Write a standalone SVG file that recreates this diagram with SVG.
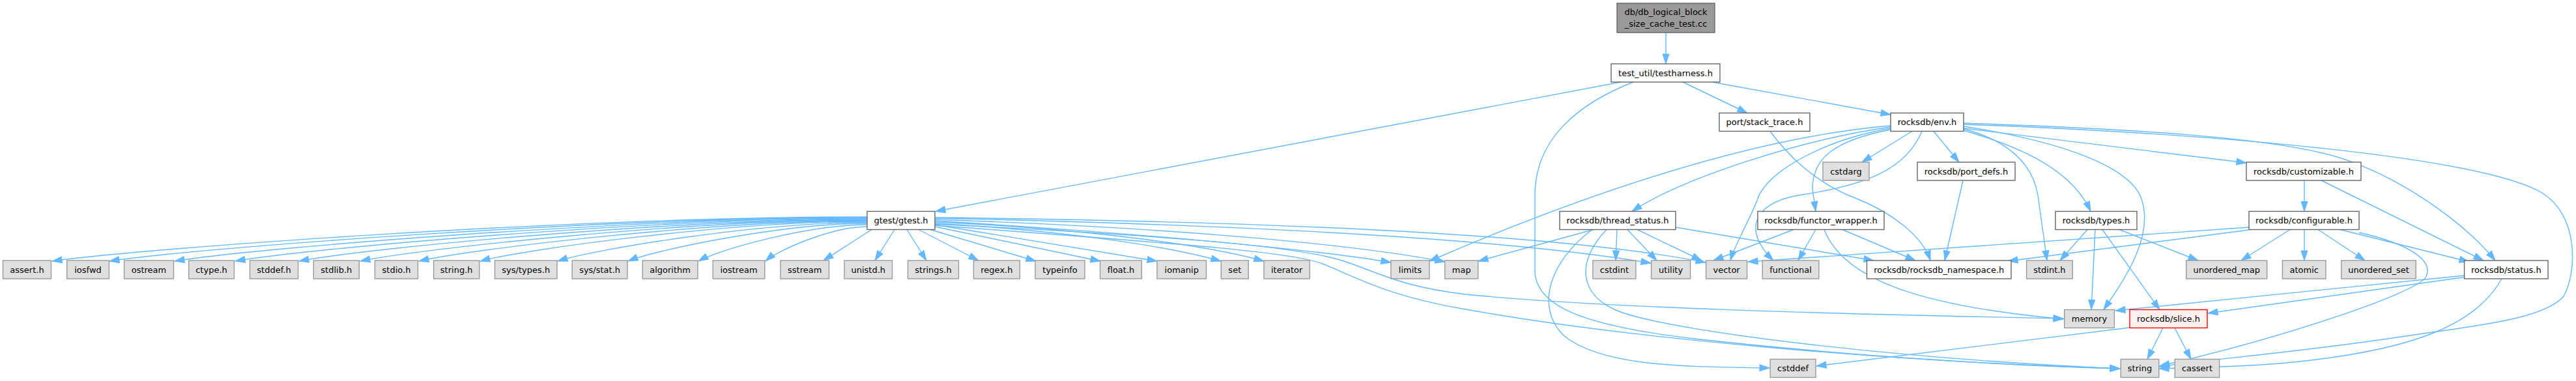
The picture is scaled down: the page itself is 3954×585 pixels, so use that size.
<svg xmlns="http://www.w3.org/2000/svg" width="3954" height="585" viewBox="0 0 3954 585">
<defs>
<marker id="a" markerUnits="userSpaceOnUse" markerWidth="16" markerHeight="12" refX="15" refY="5" orient="auto" overflow="visible"><path d="M0,0L15,5L0,10z" fill="#63b8ff" stroke="#63b8ff" stroke-width="1"/></marker>
<style>
.e{fill:none;stroke:#63b8ff;stroke-width:1.4;marker-end:url(#a)}
.w{fill:#fff;stroke:#666;stroke-width:1.4}
.x{fill:#e0e0e0;stroke:#999;stroke-width:1.4}
.t{fill:#999;stroke:#666;stroke-width:1.4}
.r{fill:#fff0f0;stroke:#f00;stroke-width:1.4}
text{font-family:"DejaVu Sans","Liberation Sans",sans-serif;font-size:13px;text-anchor:middle;fill:#000}
</style>
</defs>
<rect width="3954" height="585" fill="#fff"/>
<g id="edges">
<path class="e" d="M2557,50L2557,98"/>
<path class="e" d="M2488,126L1436,324.5"/>
<path class="e" d="M2507,126C2420,160 2356,215 2356,300L2356,415C2356,470 2430,500 2600,520C2850,548 3100,562 3254,566"/>
<path class="e" d="M2583,126L2682,173.5"/>
<path class="e" d="M2628,126L2902,176"/>
<path class="e" d="M2717,201.5C2760,260 2810,290 2850,305C2900,325 2950,360 2963,400"/>
<path class="e" d="M2935,201.5L2858,249"/>
<path class="e" d="M2968,201.5L3007,249"/>
<path class="e" d="M3014,197L3448,250"/>
<path class="e" d="M3014,189C3250,197 3500,210 3600,245C3700,280 3790,350 3830,400"/>
<path class="e" d="M3014,191C3400,205 3800,240 3900,295C3960,330 3955,420 3935,455C3905,490 3800,500 3700,515C3500,545 3400,550 3314,563"/>
<path class="e" d="M2902,195C2760,215 2580,275 2505,324.5"/>
<path class="e" d="M2902,193C2700,210 2450,290 2194,401"/>
<path class="e" d="M2902,197C2800,215 2720,260 2700,300C2690,330 2665,370 2656,400"/>
<path class="e" d="M2950,201.5C2925,262 2860,285 2760,300C2690,312 2675,355 2722,400"/>
<path class="e" d="M2902,199C2820,215 2782,240 2782,290L2787,324.5"/>
<path class="e" d="M3013,200C3100,225 3180,260 3209,324.5"/>
<path class="e" d="M3014,198C3080,215 3120,250 3128,300L3142,400"/>
<path class="e" d="M3014,194C3150,215 3260,250 3285,300C3310,360 3260,430 3229,475.5"/>
<path class="e" d="M3013,277L2985,400"/>
<path class="e" d="M3537,277L3537,324.5"/>
<path class="e" d="M3563,277L3812,400"/>
<path class="e" d="M2446,352.5L2269,401"/>
<path class="e" d="M2444,352.5C2380,400 2355,470 2400,515C2460,565 2600,563 2716,565"/>
<path class="e" d="M2482,352.5L2480,400"/>
<path class="e" d="M2498,352.5L2543,400"/>
<path class="e" d="M2513,352.5L2612,400"/>
<path class="e" d="M2572,349L2876,400"/>
<path class="e" d="M2466,352.5C2420,400 2420,455 2490,480C2580,510 2900,550 3254,566"/>
<path class="e" d="M2753,352.5L2630,400"/>
<path class="e" d="M2787,352.5L2760,400"/>
<path class="e" d="M2800,352.5C2830,430 2950,470 3167,490"/>
<path class="e" d="M2828,352.5L2940,400"/>
<path class="e" d="M3204,352.5L3162,400"/>
<path class="e" d="M3216,352.5L3210,475.5"/>
<path class="e" d="M3227,352.5L3315,475.5"/>
<path class="e" d="M3253,352.5L3374,400"/>
<path class="e" d="M3452,349L2683,402"/>
<path class="e" d="M3452,353L3082,401"/>
<path class="e" d="M3515,352.5L3440,400"/>
<path class="e" d="M3537,352.5L3537,400"/>
<path class="e" d="M3558,352.5L3630,400"/>
<path class="e" d="M3592,352.5L3790,402"/>
<path class="e" d="M3621,357C3700,375 3735,400 3724,425C3710,450 3500,520 3315,562"/>
<path class="e" d="M3783,423L3247,477"/>
<path class="e" d="M3783,425.5L3389,481"/>
<path class="e" d="M3840,428C3800,500 3700,540 3500,558C3420,564 3350,565 3314,566"/>
<path class="e" d="M3269,503L2788,562"/>
<path class="e" d="M3320,503.5L3296,551.5"/>
<path class="e" d="M3338,503.5L3363,551.5"/>
<path class="e" d="M1331,333C893,333 230,380 80,401"/>
<path class="e" d="M1331,334C924,334 308,380 168,401"/>
<path class="e" d="M1331,335C959,335 395,380.5 268,401"/>
<path class="e" d="M1331,336C991,336 477,381 361,401"/>
<path class="e" d="M1331,337C1026,337 563,381 459,401"/>
<path class="e" d="M1331,338C1058,338 646,381.5 553,401"/>
<path class="e" d="M1331,339C1090,339 725,382 643,401"/>
<path class="e" d="M1331,340C1123,340 808,382 737,401"/>
<path class="e" d="M1331,341.5C1165,341.5 913,382.5 856,401"/>
<path class="e" d="M1331,343C1203,343 1008,383 964,401"/>
<path class="e" d="M1331,345C1240,345 1103,383.5 1072,401"/>
<path class="e" d="M1331,348C1276,348 1194,384.4 1175,401"/>
<path class="e" d="M1338,352.5L1264,400"/>
<path class="e" d="M1373,352.5L1343,400"/>
<path class="e" d="M1392,352.5L1422,400"/>
<path class="e" d="M1410,352.5L1502,400"/>
<path class="e" d="M1428,352.5L1590,401"/>
<path class="e" d="M1435,348L1689,401"/>
<path class="e" d="M1435,345L1776,401"/>
<path class="e" d="M1435,343C1650,355 1800,380 1874,401"/>
<path class="e" d="M1435,341C1680,352 1860,378 1940,401"/>
<path class="e" d="M1435,339C1700,355 2000,380 2135,403"/>
<path class="e" d="M1435,337C1750,348 2050,370 2218,402"/>
<path class="e" d="M1435,335C1900,345 2300,365 2534,404"/>
<path class="e" d="M1435,334C1950,340 2400,360 2618,403"/>
<path class="e" d="M1435,344C1750,360 1980,375 2060,400C2120,420 2150,440 2250,452C2450,472 2800,482 3167,489"/>
<path class="e" d="M1435,346C1750,370 1980,385 2030,405C2080,425 2130,455 2250,475C2500,520 2900,555 3254,566"/>
</g>
<g id="n0"><rect class="t" x="2482" y="5" width="150" height="45"/><text x="2557" y="23.1">db/db_logical_block</text><text x="2557" y="40.5">_size_cache_test.cc</text></g>
<g id="n1"><rect class="w" x="2473" y="98" width="167" height="28"/><text x="2556.5" y="116.8">test_util/testharness.h</text></g>
<g id="n2"><rect class="w" x="2639" y="173.5" width="139" height="28"/><text x="2708.5" y="192.3">port/stack_trace.h</text></g>
<g id="n3"><rect class="w" x="2902" y="173.5" width="112" height="28"/><text x="2958" y="192.3">rocksdb/env.h</text></g>
<g id="n4"><rect class="x" x="2798" y="249" width="71" height="28"/><text x="2833.5" y="267.8">cstdarg</text></g>
<g id="n5"><rect class="w" x="2943" y="249" width="150" height="28"/><text x="3018" y="267.8">rocksdb/port_defs.h</text></g>
<g id="n6"><rect class="w" x="3448" y="249" width="176" height="28"/><text x="3536" y="267.8">rocksdb/customizable.h</text></g>
<g id="n7"><rect class="w" x="1331" y="324.5" width="104" height="28"/><text x="1383" y="343.3">gtest/gtest.h</text></g>
<g id="n8"><rect class="w" x="2394" y="324.5" width="178" height="28"/><text x="2483" y="343.3">rocksdb/thread_status.h</text></g>
<g id="n9"><rect class="w" x="2698" y="324.5" width="194" height="28"/><text x="2795" y="343.3">rocksdb/functor_wrapper.h</text></g>
<g id="n10"><rect class="w" x="3155" y="324.5" width="125" height="28"/><text x="3217.5" y="343.3">rocksdb/types.h</text></g>
<g id="n11"><rect class="w" x="3452" y="324.5" width="169" height="28"/><text x="3536.5" y="343.3">rocksdb/configurable.h</text></g>
<g id="n12"><rect class="x" x="4.5" y="400" width="74" height="28"/><text x="41.5" y="418.8">assert.h</text></g>
<g id="n13"><rect class="x" x="102.7" y="400" width="64.7" height="28"/><text x="135" y="418.8">iosfwd</text></g>
<g id="n14"><rect class="x" x="190.6" y="400" width="75.9" height="28"/><text x="228.5" y="418.8">ostream</text></g>
<g id="n15"><rect class="x" x="289.7" y="400" width="69.7" height="28"/><text x="324.5" y="418.8">ctype.h</text></g>
<g id="n16"><rect class="x" x="383.5" y="400" width="74.1" height="28"/><text x="420.5" y="418.8">stddef.h</text></g>
<g id="n17"><rect class="x" x="481.3" y="400" width="70" height="28"/><text x="516.3" y="418.8">stdlib.h</text></g>
<g id="n18"><rect class="x" x="575.4" y="400" width="66.1" height="28"/><text x="608.5" y="418.8">stdio.h</text></g>
<g id="n19"><rect class="x" x="665.6" y="400" width="70.2" height="28"/><text x="700.7" y="418.8">string.h</text></g>
<g id="n20"><rect class="x" x="759.5" y="400" width="95.5" height="28"/><text x="807.25" y="418.8">sys/types.h</text></g>
<g id="n21"><rect class="x" x="878.2" y="400" width="84.8" height="28"/><text x="920.6" y="418.8">sys/stat.h</text></g>
<g id="n22"><rect class="x" x="986.3" y="400" width="84.7" height="28"/><text x="1028.6" y="418.8">algorithm</text></g>
<g id="n23"><rect class="x" x="1094.3" y="400" width="79.5" height="28"/><text x="1134" y="418.8">iostream</text></g>
<g id="n24"><rect class="x" x="1198" y="400" width="74.5" height="28"/><text x="1235.25" y="418.8">sstream</text></g>
<g id="n25"><rect class="x" x="1296" y="400" width="73.5" height="28"/><text x="1332.75" y="418.8">unistd.h</text></g>
<g id="n26"><rect class="x" x="1393.5" y="400" width="78" height="28"/><text x="1432.5" y="418.8">strings.h</text></g>
<g id="n27"><rect class="x" x="1494.4" y="400" width="71" height="28"/><text x="1529.9" y="418.8">regex.h</text></g>
<g id="n28"><rect class="x" x="1589" y="400" width="76" height="28"/><text x="1627" y="418.8">typeinfo</text></g>
<g id="n29"><rect class="x" x="1688.6" y="400" width="63.8" height="28"/><text x="1720.5" y="418.8">float.h</text></g>
<g id="n30"><rect class="x" x="1776" y="400" width="75.5" height="28"/><text x="1813.75" y="418.8">iomanip</text></g>
<g id="n31"><rect class="x" x="1874.3" y="400" width="42" height="28"/><text x="1895.3" y="418.8">set</text></g>
<g id="n32"><rect class="x" x="1940" y="400" width="70.4" height="28"/><text x="1975.2" y="418.8">iterator</text></g>
<g id="n33"><rect class="x" x="2135" y="400" width="59" height="28"/><text x="2164.5" y="418.8">limits</text></g>
<g id="n34"><rect class="x" x="2217.7" y="400" width="51" height="28"/><text x="2243.2" y="418.8">map</text></g>
<g id="n35"><rect class="x" x="2444.9" y="400" width="66" height="28"/><text x="2477.9" y="418.8">cstdint</text></g>
<g id="n36"><rect class="x" x="2534.6" y="400" width="60" height="28"/><text x="2564.6" y="418.8">utility</text></g>
<g id="n37"><rect class="x" x="2618.6" y="400" width="63" height="28"/><text x="2650.1" y="418.8">vector</text></g>
<g id="n38"><rect class="x" x="2705.2" y="400" width="86.7" height="28"/><text x="2748.55" y="418.8">functional</text></g>
<g id="n39"><rect class="w" x="2865.5" y="400" width="221.5" height="28"/><text x="2976.25" y="418.8">rocksdb/rocksdb_namespace.h</text></g>
<g id="n40"><rect class="x" x="3110.6" y="400" width="70.6" height="28"/><text x="3145.9" y="418.8">stdint.h</text></g>
<g id="n41"><rect class="x" x="3355.7" y="400" width="124" height="28"/><text x="3417.7" y="418.8">unordered_map</text></g>
<g id="n42"><rect class="x" x="3503.4" y="400" width="66.6" height="28"/><text x="3536.7" y="418.8">atomic</text></g>
<g id="n43"><rect class="x" x="3593.8" y="400" width="114.5" height="28"/><text x="3651.05" y="418.8">unordered_set</text></g>
<g id="n44"><rect class="w" x="3782.6" y="400" width="128.5" height="28"/><text x="3846.85" y="418.8">rocksdb/status.h</text></g>
<g id="n45"><rect class="x" x="3168.7" y="475.5" width="76.7" height="28"/><text x="3207" y="494.3">memory</text></g>
<g id="n46"><rect class="r" x="3269" y="475.5" width="119" height="28"/><text x="3328.5" y="494.3">rocksdb/slice.h</text></g>
<g id="n47"><rect class="x" x="2717.2" y="551.5" width="69.8" height="28"/><text x="2752.1" y="570.3">cstddef</text></g>
<g id="n48"><rect class="x" x="3255.3" y="551.5" width="58.5" height="28"/><text x="3284.5" y="570.3">string</text></g>
<g id="n49"><rect class="x" x="3338.3" y="551.5" width="68.3" height="28"/><text x="3372.5" y="570.3">cassert</text></g>
</svg>
